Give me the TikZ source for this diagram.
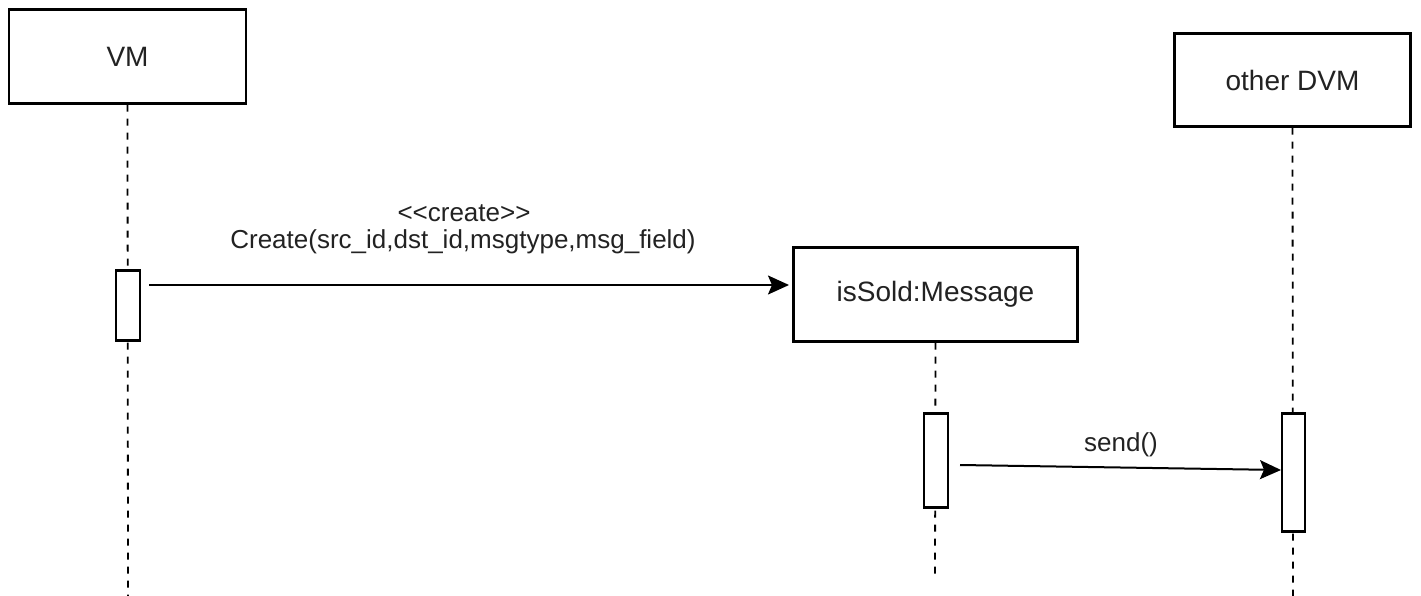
\documentclass[tikz,border=0pt]{standalone}
\usepackage{fontspec}
\setmainfont{Liberation Sans}
\usetikzlibrary{arrows.meta}
\definecolor{txt}{HTML}{222222}
\tikzset{
  obj/.style={draw=black, line width=2.2pt, fill=white, inner sep=0pt, font=\fontsize{28}{32}\selectfont, text=txt},
  act/.style={draw=black, line width=2.2pt, fill=white, inner sep=0pt},
  life/.style={draw=black, line width=1.8pt, dash pattern=on 7pt off 7pt},
  msgline/.style={draw=black, line width=2pt, -{Stealth[length=21pt, width=19pt, inset=4pt]}},
  lab/.style={font=\fontsize{26}{30}\selectfont, text=txt, inner sep=0pt}
}
\begin{document}
\begin{tikzpicture}[x=1pt, y=-1pt]
\useasboundingbox (0,0) rectangle (1421,596);
% objects
\node[obj, minimum width=237pt, minimum height=94pt] (vm) at (127.5,56.5) {VM};
\node[obj, minimum width=236pt, minimum height=93pt] (dvm) at (1292.5,80) {other DVM};
\node[obj, minimum width=284pt, minimum height=94pt] (msg) at (935.5,294.5) {isSold:Message};
% lifeline ends
\coordinate (vmend) at (128,596);
\coordinate (msgend) at (935,580);
\coordinate (dvmend) at (1293,596);
\draw[life] (vm.south) -- (vmend);
\draw[life] (msg.south) -- (msgend);
\draw[life] (dvm.south) -- (dvmend);
% activations
\node[act, minimum width=24pt, minimum height=70pt] (vmact) at (128,305.5) {};
\node[act, minimum width=24pt, minimum height=94pt] (msgact) at (936,460.5) {};
\node[act, minimum width=23pt, minimum height=118pt] (dvmact) at (1293.5,472.5) {};
% messages
\coordinate (c1s) at (149,285);
\coordinate (c1e) at (789,285);
\draw[msgline] (c1s) -- (c1e);
\node[lab] (st) at (464,213) {<\kern0pt<create>\kern0pt>};
\node[lab] (cr) at (463,242) {Create(src\_id,dst\_id,msgtype,msg\_field)};
\coordinate (c2s) at (960,465);
\coordinate (c2e) at (1281,470);
\draw[msgline] (c2s) -- (c2e);
\node[lab] (sd) at (1121,445) {send()};
\end{tikzpicture}
\end{document}
